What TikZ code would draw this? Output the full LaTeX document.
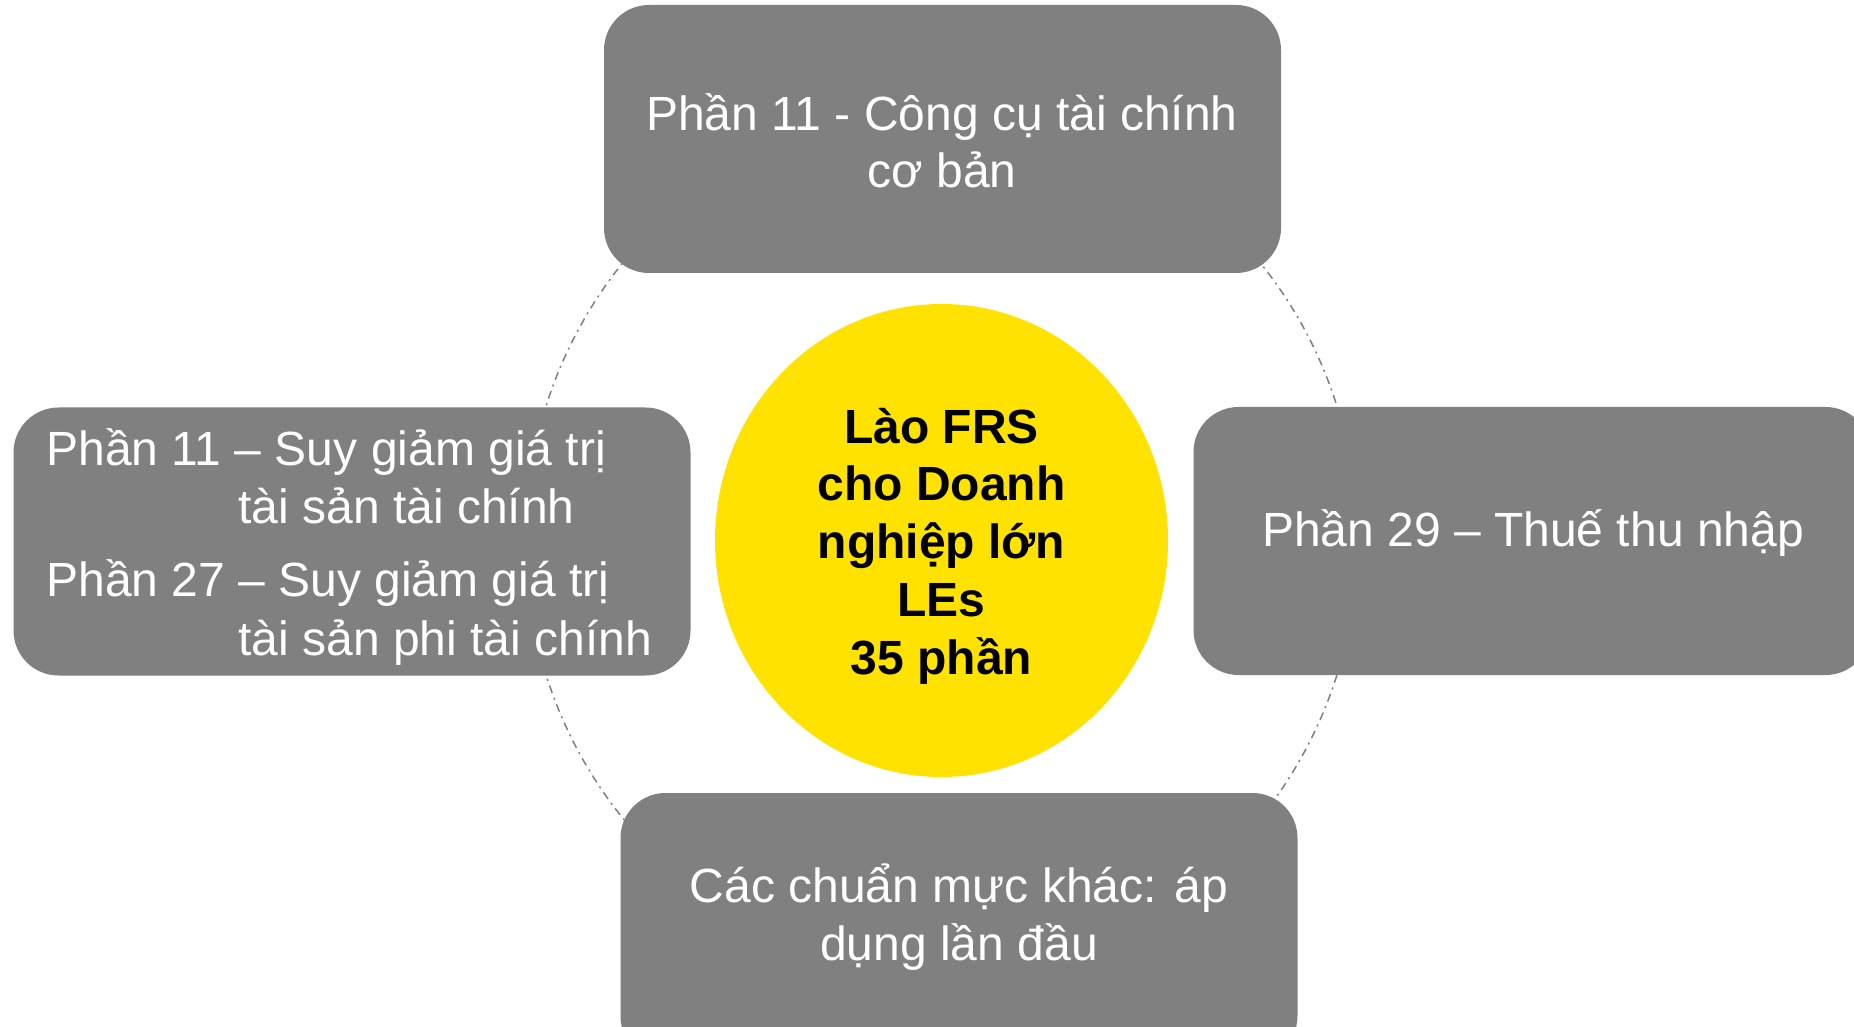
\documentclass[tikz,border=0pt]{standalone}
\usepackage{fontspec}
\setmainfont{Liberation Sans}
\usetikzlibrary{shapes.geometric}
\definecolor{boxgray}{HTML}{808080}
\definecolor{sunyellow}{HTML}{FFE200}
\begin{document}
\begin{tikzpicture}[x=0.5pt,y=-0.5pt,
  graybox/.style={draw=none, fill=boxgray, rounded corners=22.5pt, inner sep=0pt,
    minimum width=338.5pt, minimum height=134pt},
  boxtext/.style={text=white, font=\fontsize{24}{28.5}\selectfont, inner sep=0pt, anchor=base},
  boxtextleft/.style={boxtext, anchor=base west},
  ringline/.style={draw=boxgray, line width=0.75pt,
    dash pattern=on 4pt off 2.5pt on 1pt off 2.5pt},
  corestyle/.style={ellipse, fill=sunyellow, draw=none, inner sep=0pt,
    minimum width=226.5pt, minimum height=236.5pt},
  coretextstyle/.style={align=center, inner sep=0pt,
    font=\fontsize{24}{28.9}\selectfont\bfseries, text=black}
]
\clip (0,0) rectangle (1854,1027);
\fill[white] (0,0) rectangle (1854,1027);
\coordinate (ringc) at (941.5,540.5);
\draw[ringline] (ringc) ellipse [x radius=208pt, y radius=216pt];

\node[graybox] (top) at (942.5,139) {};
\node[graybox] (left) at (352,541.5) {};
\node[graybox] (right) at (1532,541) {};
\node[graybox] (bottom) at (959,927) {};

\node[corestyle] (core) at (941.5,540.5) {};
\node[coretextstyle] (coretext) at (941.5,546) {Lào FRS\\cho Doanh\\nghiệp lớn\\LEs\\35 phần};

\node[boxtext] (t1) at (942,131) {Phần 11 - Công cụ tài chính};
\node[boxtext] (t2) at (942,188) {cơ bản};

\node[boxtextleft] (l1) at (46,466) {Phần 11 – Suy giảm giá trị};
\node[boxtextleft] (l2) at (238,523) {tài sản tài chính};
\node[boxtextleft] (l3) at (46,596) {Phần 27 – Suy giảm giá trị};
\node[boxtextleft] (l4) at (238,655) {tài sản phi tài chính};

\node[boxtext] (r1) at (1533,546) {Phần 29 – Thuế thu nhập};

\node[boxtext] (b1) at (959,902) {Các chuẩn mực khác: áp};
\node[boxtext] (b2) at (959,960) {dụng lần đầu};
\end{tikzpicture}
\end{document}
